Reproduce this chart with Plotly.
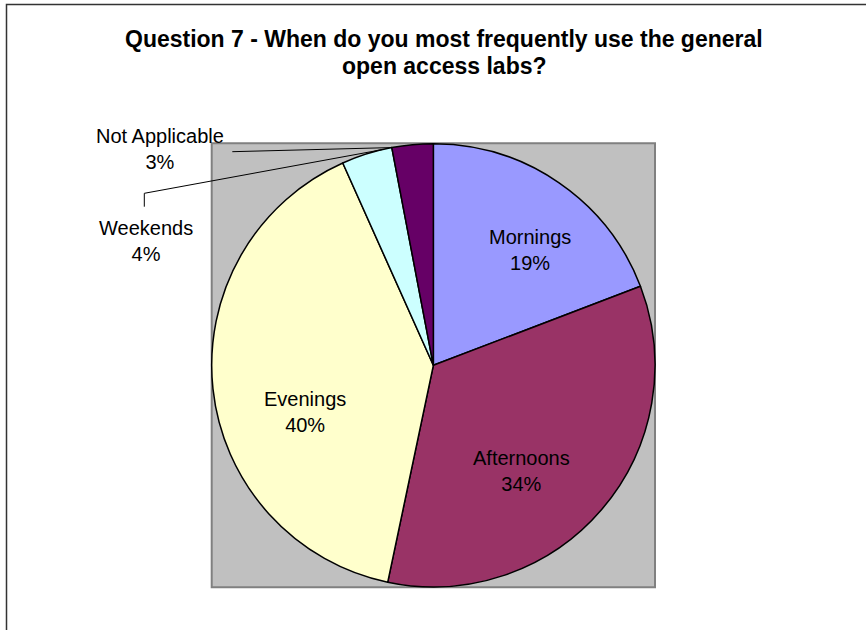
import math
import plotly.graph_objects as go

# ---- data ----
categories = ["Mornings", "Afternoons", "Evenings", "Weekends", "Not Applicable"]
values = [19.2, 34.1, 40.0, 3.7, 3.0]
colors = ["#9999FF", "#993366", "#FFFFCC", "#CCFFFF", "#660066"]
title_lines = ["Question 7 - When do you most frequently use the general", "open access labs?"]

W, H = 866, 630
# plot area (gray box) in pixels
box_x0, box_x1 = 211.7, 655.0
box_y0, box_y1 = 143.3, 587.3

def px(x):
    return x / W

def py(y):
    return 1 - y / H

cx = (box_x0 + box_x1) / 2
cy = (box_y0 + box_y1) / 2
r = min(box_x1 - box_x0, box_y1 - box_y0) / 2

total = sum(values)
cum = []
c = 0
for v in values:
    cum.append(c / total)
    c += v

def edge(frac, rr=r):
    t = 2 * math.pi * frac
    return cx + rr * math.sin(t), cy - rr * math.cos(t)

fig = go.Figure(go.Pie(
    labels=categories,
    values=values,
    sort=False,
    direction="clockwise",
    rotation=0,
    marker=dict(colors=colors, line=dict(color="black", width=1.5)),
    textinfo="none",
    hoverinfo="label+percent",
    showlegend=False,
    domain=dict(x=[px(box_x0), px(box_x1)], y=[py(box_y1), py(box_y0)]),
))

shapes = [
    # outer chart frame
    dict(type="rect", xref="paper", yref="paper", x0=px(6.5), x1=px(870), y0=py(640), y1=py(4.5),
         line=dict(color="#333333", width=1.5), fillcolor="rgba(0,0,0,0)", layer="below"),
    # gray plot area
    dict(type="rect", xref="paper", yref="paper", x0=px(box_x0), x1=px(box_x1), y0=py(box_y1), y1=py(box_y0),
         line=dict(color="#808080", width=2), fillcolor="#C0C0C0", layer="below"),
]

title_font = dict(family="Liberation Sans, Arial, sans-serif", size=23, color="black")
annotations = []
for k, (ty, line) in enumerate(zip([39, 66], title_lines)):
    annotations.append(dict(text="<b>" + line + "</b>", x=px(444), y=py(ty), xref="paper", yref="paper",
                            xanchor="center", yanchor="middle", showarrow=False, font=title_font))

lab_font = dict(family="Liberation Sans, Arial, sans-serif", size=20, color="black")
pct = [round(v / total * 100) for v in values]

# inside labels: placed at mid-angle, then nudged
inside_nudges = {0: (16, -2), 1: (-20, -14), 2: (13, -32)}
for i, (dx, dy) in inside_nudges.items():
    mid = cum[i] + values[i] / total / 2
    lx, ly = edge(mid, r * 0.64)
    annotations.append(dict(text=f"{categories[i]}<br>{pct[i]}%", x=px(lx), y=py(ly),
                            xref="paper", yref="paper", xanchor="center", yanchor="middle",
                            xshift=dx, yshift=dy, showarrow=False, font=lab_font))

# outside labels with leader lines
na_lbl = (160, 149)
wk_lbl = (146, 241)
annotations.append(dict(text=f"{categories[4]}<br>{pct[4]}%", x=px(na_lbl[0]), y=py(na_lbl[1]),
                        xref="paper", yref="paper", xanchor="center", yanchor="middle",
                        showarrow=False, font=lab_font))
annotations.append(dict(text=f"{categories[3]}<br>{pct[3]}%", x=px(wk_lbl[0]), y=py(wk_lbl[1]),
                        xref="paper", yref="paper", xanchor="center", yanchor="middle",
                        showarrow=False, font=lab_font))

na_end = edge(cum[4])
wk_end = edge(cum[3] + 0.8 * values[3] / total)
lead = dict(color="black", width=1)
shapes.append(dict(type="line", xref="paper", yref="paper", x0=px(232.3), y0=py(151.7),
                   x1=px(na_end[0]), y1=py(na_end[1]), line=lead))
shapes.append(dict(type="line", xref="paper", yref="paper", x0=px(144.3), y0=py(206.7),
                   x1=px(144.3), y1=py(193.3), line=lead))
shapes.append(dict(type="line", xref="paper", yref="paper", x0=px(144.3), y0=py(193.3),
                   x1=px(wk_end[0]), y1=py(wk_end[1]), line=lead))

fig.update_layout(
    width=W, height=H,
    margin=dict(l=0, r=0, t=0, b=0),
    paper_bgcolor="white",
    plot_bgcolor="white",
    shapes=shapes,
    annotations=annotations,
)

fig.write_html("out.html",
               config={"displayModeBar": False},
               post_script="document.body.style.margin='0';document.body.style.overflow='hidden';")
